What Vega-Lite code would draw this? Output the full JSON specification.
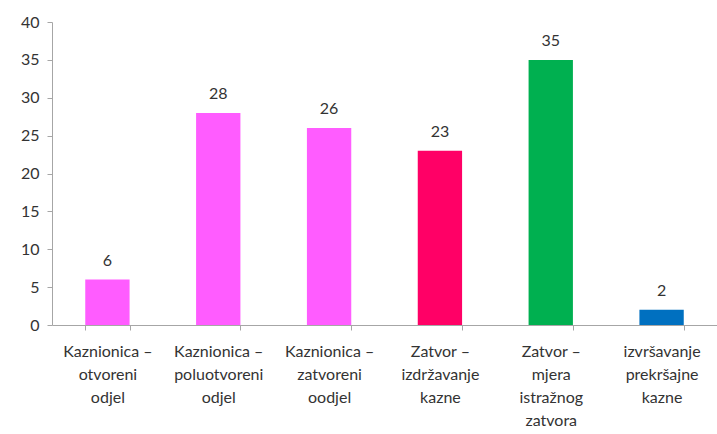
{
  "$schema": "https://vega.github.io/schema/vega-lite/v6.json",
  "width": 665,
  "height": 303,
  "autosize": {"type": "none"},
  "padding": {"left": 52, "top": 22, "right": 0, "bottom": 109},
  "background": "white",
  "config": {"view": {"stroke": null}, "font": "Lato"},
  "data": {
    "values": [
      {"cat": "Kaznionica –|otvoreni|odjel", "value": 6, "grp": "a"},
      {"cat": "Kaznionica –|poluotvoreni|odjel", "value": 28, "grp": "a"},
      {"cat": "Kaznionica –|zatvoreni|oodjel", "value": 26, "grp": "a"},
      {"cat": "Zatvor –|izdržavanje|kazne", "value": 23, "grp": "b"},
      {"cat": "Zatvor –|mjera|istražnog|zatvora", "value": 35, "grp": "c"},
      {"cat": "izvršavanje|prekršajne|kazne", "value": 2, "grp": "d"}
    ]
  },
  "encoding": {
    "x": {
      "field": "cat",
      "type": "nominal",
      "sort": null,
      "scale": {"paddingInner": 0.6, "paddingOuter": 0.3},
      "axis": {
        "title": null,
        "labelAngle": 0,
        "labelExpr": "split(datum.label, '|')",
        "labelFontSize": 16,
        "labelColor": "#333333",
        "labelLineHeight": 23,
        "labelPadding": 13,
        "labelLimit": 0,
        "labelOverlap": false,
        "labelBaseline": "top",
        "tickBand": "extent",
        "tickSize": 5,
        "tickColor": "#a6a6a6",
        "domainColor": "#a6a6a6"
      }
    },
    "y": {
      "field": "value",
      "type": "quantitative",
      "scale": {"domain": [0, 40], "nice": false},
      "axis": {
        "title": null,
        "values": [0, 5, 10, 15, 20, 25, 30, 35, 40],
        "grid": false,
        "labelFontSize": 16,
        "labelColor": "#333333",
        "labelPadding": 8,
        "tickSize": 5,
        "tickColor": "#a6a6a6",
        "domainColor": "#a6a6a6"
      }
    }
  },
  "layer": [
    {
      "mark": {"type": "bar"},
      "encoding": {
        "color": {
          "field": "grp",
          "type": "nominal",
          "legend": null,
          "scale": {"domain": ["a", "b", "c", "d"], "range": ["#FF5CFF", "#FF0066", "#00B050", "#0070C0"]}
        }
      }
    },
    {
      "mark": {"type": "text", "baseline": "bottom", "dy": -11, "fontSize": 16, "color": "#333333"},
      "encoding": {"text": {"field": "value", "type": "quantitative"}}
    }
  ]
}
